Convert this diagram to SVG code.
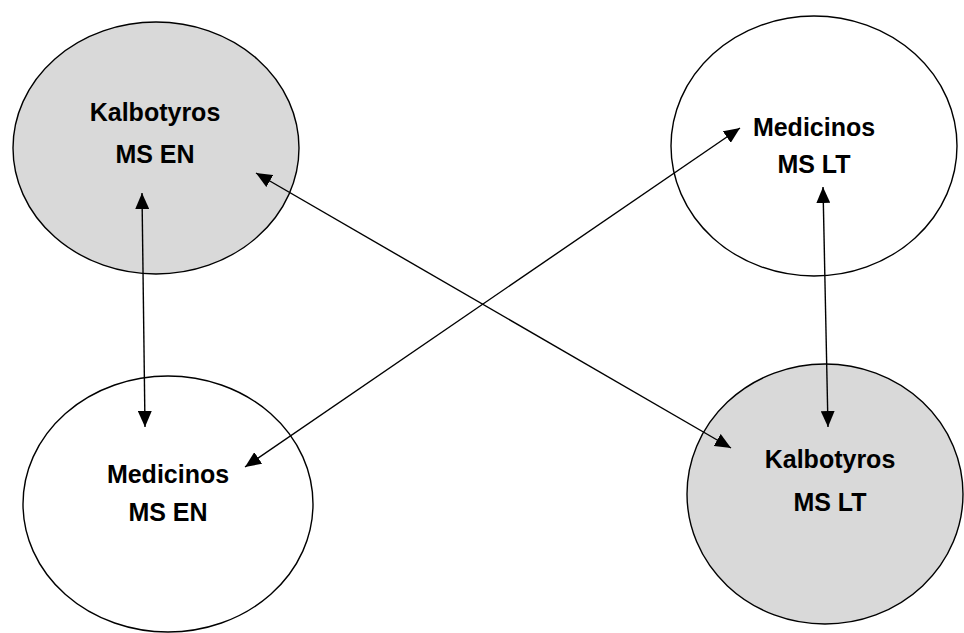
<svg xmlns="http://www.w3.org/2000/svg" width="964" height="633" viewBox="0 0 964 633">
<style>
.node ellipse{stroke:#000;stroke-width:1.4}
.gray{fill:#d9d9d9}
.white{fill:#fff}
.lbl{font-family:"Liberation Sans",Arial,sans-serif;font-weight:bold;font-size:25px;fill:#000;text-anchor:middle}
.conn line{stroke:#000;stroke-width:1.4;fill:none}
</style>
<defs>
<marker id="ah" markerUnits="userSpaceOnUse" markerWidth="17" markerHeight="14" refX="16" refY="7" orient="auto-start-reverse" viewBox="0 0 17 14">
<path d="M0,0 L16,7 L0,14 z" fill="#000"/>
</marker>
</defs>
<rect width="964" height="633" fill="#fff"/>
<g id="kalbotyros-ms-en" class="node">
<ellipse class="gray" cx="156" cy="148" rx="143" ry="126"/>
<text class="lbl" x="155" y="121">Kalbotyros</text>
<text class="lbl" x="155" y="163">MS EN</text>
</g>
<g id="medicinos-ms-lt" class="node">
<ellipse class="white" cx="814" cy="146" rx="143" ry="130"/>
<text class="lbl" x="814" y="136">Medicinos</text>
<text class="lbl" x="814" y="173">MS LT</text>
</g>
<g id="medicinos-ms-en" class="node">
<ellipse class="white" cx="168" cy="504" rx="145" ry="128"/>
<text class="lbl" x="168" y="483">Medicinos</text>
<text class="lbl" x="168" y="521">MS EN</text>
</g>
<g id="kalbotyros-ms-lt" class="node">
<ellipse class="gray" cx="825" cy="494" rx="138" ry="130"/>
<text class="lbl" x="830" y="468">Kalbotyros</text>
<text class="lbl" x="830" y="511">MS LT</text>
</g>
<g id="connectors" class="conn">
<line x1="142" y1="193" x2="145" y2="427" marker-start="url(#ah)" marker-end="url(#ah)"/>
<line x1="256" y1="173" x2="731" y2="448" marker-start="url(#ah)" marker-end="url(#ah)"/>
<line x1="245" y1="467" x2="740" y2="128" marker-start="url(#ah)" marker-end="url(#ah)"/>
<line x1="823" y1="187" x2="828" y2="427" marker-start="url(#ah)" marker-end="url(#ah)"/>
</g>
</svg>
